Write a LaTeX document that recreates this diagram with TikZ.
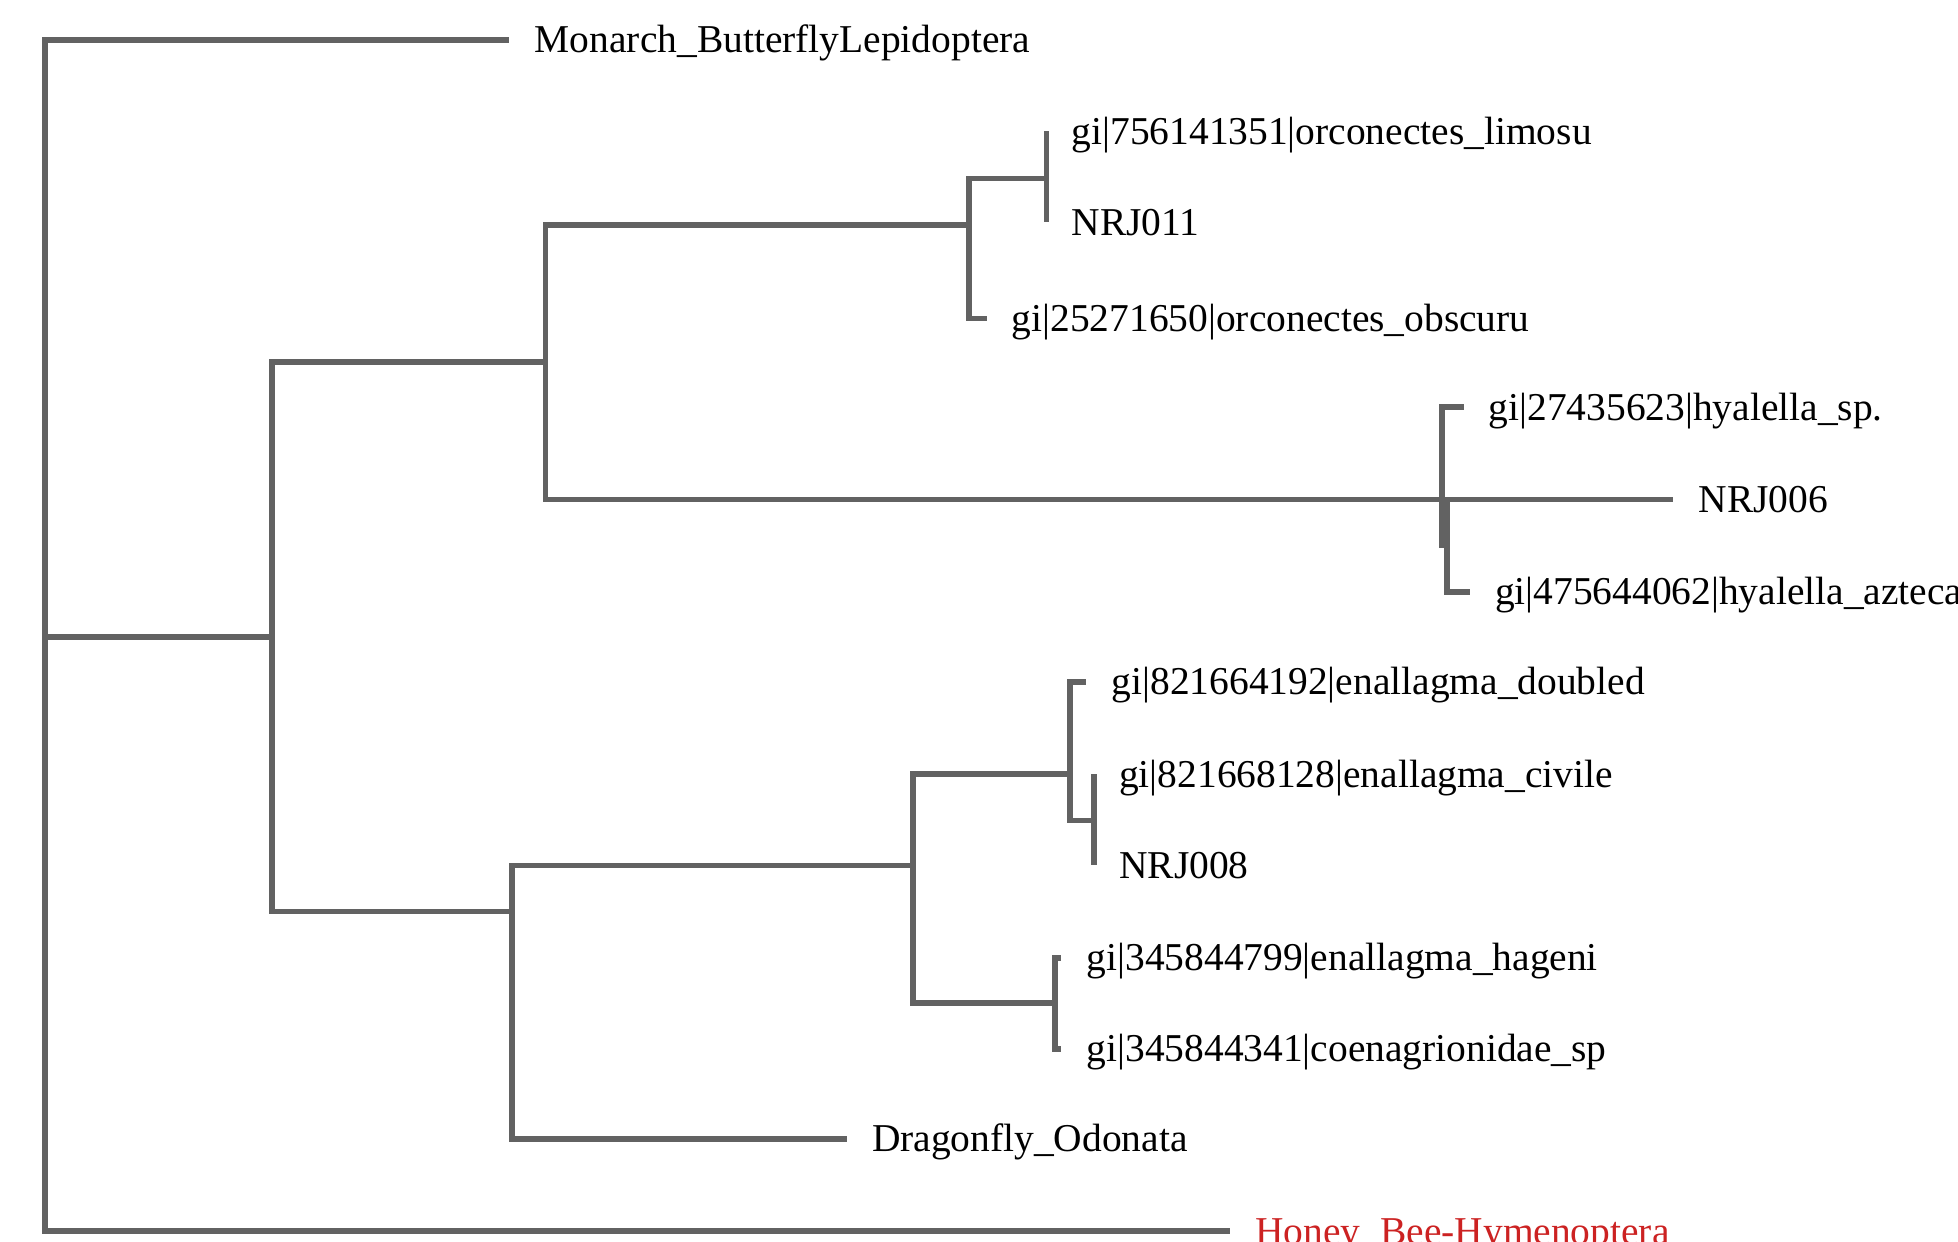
\documentclass[tikz,border=0pt]{standalone}
\usepackage{fontspec}
\setmainfont{Liberation Serif}
\definecolor{branch}{RGB}{98,98,98}
\definecolor{beered}{RGB}{204,34,34}

\begin{document}
\begin{tikzpicture}[x=0.625pt, y=-0.625pt, leaf/.style={anchor=west, inner xsep=12.5pt, inner ysep=0pt, font=\fontsize{19.75}{22}\selectfont, text height=18pt, text depth=5pt}, edge/.style={draw=branch, line width=2.8pt}]

    \useasboundingbox[fill=white] (0,0) rectangle (1568,994);

    % inner nodes of the tree
    \coordinate (n_root) at (36,510);
    \coordinate (n_a) at (218,510);
    \coordinate (n_b) at (437,290);
    \coordinate (n_c) at (776,180);
    \coordinate (n_d) at (838,143);
    \coordinate (n_hy) at (1155,400);
    \coordinate (n_hz) at (1159,437);
    \coordinate (n_e) at (410,730);
    \coordinate (n_f) at (731,693);
    \coordinate (n_g) at (857,620);
    \coordinate (n_h) at (876,657);
    \coordinate (n_i) at (845,803);

    % leaves
    \node[leaf] (l_mon) at (408,32) {Monarch\_ButterflyLepidoptera};
    \node[leaf] (l_lim) at (838,105) {gi|756141351|orconectes\_limosu};
    \node[leaf] (l_nrj11) at (838,178) {NRJ011};
    \node[leaf] (l_obs) at (790,255) {gi|25271650|orconectes\_obscuru};
    \node[leaf] (l_sp) at (1172,326) {gi|27435623|hyalella\_sp.};
    \node[leaf] (l_nrj6) at (1340,400) {NRJ006};
    \node[leaf] (l_azt) at (1177,474) {gi|475644062|hyalella\_azteca};
    \node[leaf] (l_dbl) at (870,546) {gi|821664192|enallagma\_doubled};
    \node[leaf] (l_civ) at (876,620) {gi|821668128|enallagma\_civile};
    \node[leaf] (l_nrj8) at (876,693) {NRJ008};
    \node[leaf] (l_hag) at (850,767) {gi|345844799|enallagma\_hageni};
    \node[leaf] (l_coe) at (850,840) {gi|345844341|coenagrionidae\_sp};
    \node[leaf] (l_dra) at (678,912) {Dragonfly\_Odonata};
    \node[leaf, text=beered] (l_bee) at (985,986) {Honey\_Bee-Hymenoptera};

    % branches
    \draw[edge] (n_root) |- (l_mon.west);
    \draw[edge] (n_root) |- (l_bee.west);
    \draw[edge] (n_root) -- (n_a);
    \draw[edge] (n_a) |- (n_b);
    \draw[edge] (n_a) |- (n_e);
    \draw[edge] (n_b) |- (n_c);
    \draw[edge] (n_b) |- (n_hy);
    \draw[edge] (n_c) |- (n_d);
    \draw[edge] (n_c) |- (l_obs.west);
    \draw[edge] (n_d) |- (l_lim.west);
    \draw[edge] (n_d) |- (l_nrj11.west);
    \draw[edge] (n_hy) |- (l_sp.west);
    \draw[edge] (n_hy) |- (n_hz);
    \draw[edge] (n_hz) |- (l_nrj6.west);
    \draw[edge] (n_hz) |- (l_azt.west);
    \draw[edge] (n_e) |- (n_f);
    \draw[edge] (n_e) |- (l_dra.west);
    \draw[edge] (n_f) |- (n_g);
    \draw[edge] (n_f) |- (n_i);
    \draw[edge] (n_g) |- (l_dbl.west);
    \draw[edge] (n_g) |- (n_h);
    \draw[edge] (n_h) |- (l_civ.west);
    \draw[edge] (n_h) |- (l_nrj8.west);
    \draw[edge] (n_i) |- (l_hag.west);
    \draw[edge] (n_i) |- (l_coe.west);

\end{tikzpicture}
\end{document}
